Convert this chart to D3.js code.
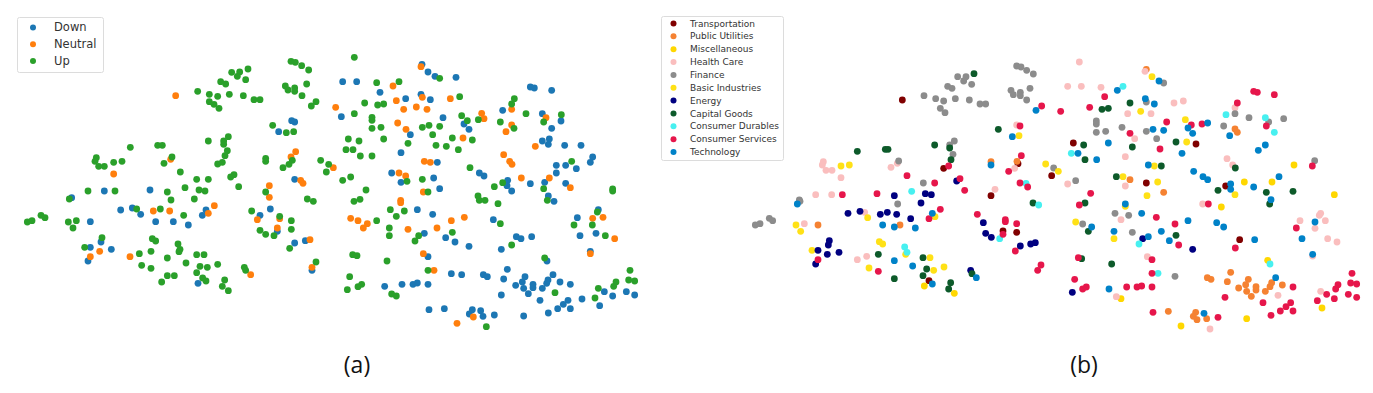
<!DOCTYPE html>
<html>
<head>
<meta charset="utf-8">
<script src="https://cdn.jsdelivr.net/npm/d3@7"></script>
<style>
  html, body { margin: 0; padding: 0; background: #fff; }
  svg { display: block; }
</style>
</head>
<body>
<div id="chart"></div>
<script>
// embedding values, both axes in the same unit (1/3 px of the figure)
var down = [[875,362],[884,366],[836,395],[313,573],[450,570],[884,538],[215,593],
  [362,630],[397,624],[422,643],[467,665],[520,665],[565,675],[618,630],[607,646],[780,646],[811,627],[832,694],[271,665],[303,726],[271,742],[334,748],[264,783],[594,850],[884,729],[916,722],[936,811],
  [1028,245],[1070,245],[1140,277],[1266,193],[1284,216],[1305,229],[1368,232],[1263,283],[1217,296],[1291,299],[1024,350],[1329,353],[1392,372],[1407,388],[1231,404],[1203,458],[1312,487],[1175,519],[1203,547],[1301,534],[1319,566],[1438,519],[1452,528],[1508,331],[1591,261],[1603,264],[1655,271],[1627,341],[1683,363],[1655,385],[1627,423],[1648,417],[1645,433],[1694,436],[1743,436],[1778,471],[1771,487],[1669,496],[1697,496],[1729,506],[1669,519],[1523,541],[1521,557],[1535,573],[1591,551],[1634,547],[1697,550],[1645,588],[1662,604],[1252,629],[1795,629],
  [1298,643],[1480,659],[1732,653],[1740,707],[1788,700],[1273,700],[1337,713],[1365,726],[1407,739],[1504,748],[1549,710],[1563,716],[1595,710],[1771,754],[1284,770],[1641,783],[1522,808],[1354,821],[1385,824],[1450,824],[1462,830],[1511,837],[1575,830],[1567,846],[1659,824],[1644,840],[1640,850],[1680,846],[1711,853],[1547,856],[1571,865],[1599,853],[1599,863],[1627,865],[1154,859],[1206,853],[1239,853],[1252,849],[1284,853],[1504,885],[1585,881],[1620,901],[1704,901],[1690,913],[1673,926],[1711,926],[1746,897],[1813,875],[1838,888],[1879,875],[1904,885],[1799,917],[1645,939],[1287,929],[1333,926],[1417,929],[1408,942],[1442,932],[1449,949],[1483,945],[1571,948]];

var neutral = [[527,287],[1007,322],[887,455],[873,471],[1000,503],[341,522],[512,478],[902,541],[909,550],[808,557],[808,592],
  [460,633],[509,633],[643,617],[625,640],[772,659],[839,656],[832,684],[299,754],[271,770],[390,770],[752,824],[930,719],[936,802],
  [1263,200],[1179,258],[1189,302],[1267,292],[1351,296],[1211,328],[1249,321],[1281,328],[1193,369],[1218,388],[1389,414],[1445,340],[1452,356],[1535,328],[1535,375],[1518,395],[1638,353],[1606,439],[1511,464],[1529,484],[1536,493],[1273,484],[1291,487],[1197,519],[1217,528],[1564,534],[1648,534],[1711,563],[1270,576],[1202,601],[1202,608],
  [1052,655],[1074,662],[1102,671],[1090,684],[1224,688],[1311,684],[1354,662],[1393,652],[1778,655],[1809,652],[1844,716],[1771,761],[1270,761],[1302,811],[1420,951],[1371,970]];

var up = [[873,184],[886,187],[905,197],[926,210],[744,207],[719,216],[695,217],[712,229],[737,239],[920,252],[662,245],[677,252],[593,274],[628,283],[653,289],[688,283],[730,287],[762,299],[780,299],[856,258],[864,270],[884,264],[884,274],[906,287],[948,305],[934,318],[628,305],[642,313],[657,325],[818,376],[859,398],[881,395],[391,442],[473,436],[487,436],[625,423],[685,410],[671,423],[671,433],[682,452],[675,467],[667,487],[653,492],[797,475],[797,484],[877,481],[867,493],[849,503],[962,481],[986,493],[979,516],[289,473],[285,484],[296,499],[313,499],[341,487],[366,484],[492,490],[516,471],[541,516],[590,538],[625,538],[702,524],[692,531],[716,560],[555,563],[597,570],[615,573],[502,576],[264,573],[345,573],[797,576],[513,600],[583,597],[922,597],[208,597],
  [940,604],[410,627],[481,627],[551,646],[755,633],[839,649],[874,662],[874,688],[780,691],[797,703],[822,707],[123,646],[135,653],[82,666],[96,662],[205,666],[229,662],[219,684],[306,713],[254,742],[457,716],[467,723],[534,732],[540,748],[537,755],[453,754],[418,761],[502,774],[590,764],[612,764],[558,789],[600,799],[622,802],[653,793],[425,796],[453,805],[590,818],[502,827],[523,827],[485,846],[608,834],[618,843],[674,840],[667,859],[685,872],[733,802],[737,811],[869,745],[948,786],
  [1063,172],[1130,248],[1197,245],[1319,235],[1379,290],[1094,309],[1133,315],[1151,312],[1063,341],[1116,352],[1116,361],[1116,385],[1143,382],[1267,382],[1287,376],[1319,379],[1385,347],[1402,362],[1435,359],[1298,404],[1357,414],[1417,420],[1045,417],[1077,423],[1151,417],[1224,430],[1308,436],[1339,439],[1375,449],[1038,449],[1059,449],[1081,468],[1116,468],[1410,503],[1052,531],[1028,541],[1098,570],[1267,538],[1221,544],[1284,576],[1062,604],[1080,598],[1171,629],[1213,633],
  [1543,296],[1535,312],[1578,341],[1501,366],[1542,385],[1684,344],[1631,366],[1715,484],[1483,560],[1508,548],[1631,566],[1434,588],[1438,601],[1455,601],[1494,611],[1642,601],[1838,567],[1838,573],
  [1189,649],[1130,662],[1168,684],[1168,707],[1256,707],[1245,723],[1357,697],[1501,671],[1535,735],[1722,675],[1777,675],[1792,636],[1816,707],[1634,774],[1058,764],[1071,767],[1161,783],[1284,811],[1049,830],[1085,853],[1074,860],[1042,869],[1175,882],[1189,888],[1665,878],[1785,894],[1795,865],[1841,859],[1848,846],[1890,811],[1886,840],[1904,843],[1459,980]];

var transportation = [[2707,300],[2831,505],[2973,587],[3054,491],[3009,693],[3050,697],[2787,842],[3220,429],[3155,527],[3439,549],[3588,432],[3677,558],[3719,719]];

var publicUtilities = [[2973,485],[3051,484],[2454,675],[2700,675],[3439,208],[3705,387],[3712,397],[3390,539],[3491,577],
  [3622,833],[3633,838],[3692,817],[3682,845],[3745,838],[3737,854],[3716,864],[3740,874],[3768,860],[3768,870],[3754,889],[3796,874],[3810,860],[3815,848],[3847,855],[3505,934],[3587,937],[3580,949],[3591,959],[3620,956]];

var miscellaneous = [[3882,495],[3816,546],[3733,546],[4003,584],[3664,621],[3803,781],[3740,956],[3966,924],[3543,978],[3363,896],[2863,880],[2773,858]];

var healthCare = [[3050,375],[2470,485],[2467,495],[2478,511],[2496,511],[2523,533],[2673,502],[2692,490],[2447,584],[2495,584],[2985,568],[3044,505],[2594,637],[2413,671],[2572,779],[2600,769],
  [3238,186],[3203,259],[3244,259],[3303,262],[3435,214],[3522,309],[3550,303],[3383,341],[3453,341],[3404,416],[3376,470],[3705,323],[3681,476],[3698,495],[3203,552],[3376,558],[3608,612],[3363,659],[3900,662],[3962,640],[3958,646],[3976,662],[3945,685],[3983,716],[4011,726],[3938,768],[3442,770],[3349,890],[3962,874],[3834,886],[3630,987]];

var finance = [[3050,198],[3063,201],[3080,211],[3100,222],[2873,230],[2898,230],[2891,243],[2915,253],[2843,259],[2856,265],[2772,287],[2807,296],[2831,303],[2866,296],[2908,300],[2940,312],[2957,312],[2821,325],[2835,338],[3033,271],[3040,284],[3061,277],[3061,287],[3080,300],[3090,265],[2863,423],[2849,435],[2859,463],[2696,483],[2770,549],[2398,600],[2400,604],[2693,612],[2266,675],[2280,671],[2308,655],[2318,662],
  [3491,249],[3439,306],[3289,363],[3289,372],[3289,397],[3317,394],[3366,382],[3439,394],[3470,416],[3705,341],[3747,353],[3806,366],[3851,356],[3671,378],[3944,482],[3161,504],[3227,542],[3345,640],[3386,646],[3248,672],[3397,697],[3525,829]];

var basicIndustries = [[2523,498],[2548,495],[3057,407],[2603,653],[2805,650],[2388,675],[2402,694],[2638,725],[2648,732],[2436,751],[2717,763],[2790,773],[2607,804],[2801,811],[2832,801],
  [3456,230],[3422,334],[3556,359],[3560,426],[3137,492],[3175,514],[3463,498],[3369,530],[3473,546],[3441,587],[3705,584],[3376,619],[3227,666],[3342,716]];

var energy = [[2870,543],[2776,581],[2794,584],[2683,587],[2763,609],[2544,640],[2580,634],[2641,643],[2662,637],[2690,643],[2732,656],[2950,668],[2957,700],[2974,712],[3061,738],[3092,732],[3106,728],[2488,722],[2485,735],[2454,751],[2482,763],[2517,757],[2447,792],[2912,811],[3428,716],[3578,748],[3217,877]];

var capitalGoods = [[2922,221],[2995,388],[2804,435],[2849,444],[2853,479],[2572,454],[2656,448],[2664,448],[3099,609],[2635,763],[2769,773],[2780,807],[2769,827],[2683,836],[2916,821],[2852,848],[2846,867],
  [3306,328],[3325,325],[3390,309],[3251,435],[3397,441],[3528,426],[3255,479],[3484,498],[3349,530],[3706,504],[3654,571],[3799,577],[3879,574],[3809,612],[3255,609],[3265,694],[3528,706],[3245,776],[3335,792]];

var consumerDurables = [[2735,574],[3078,550],[3116,615],[2999,716],[2714,741],[2721,757],[3369,259],[3678,344],[3796,353],[3823,397],[3214,460],[3417,732],[3474,820],[3810,792]];

var consumerServices = [[3060,378],[3064,467],[2846,498],[2721,527],[2880,536],[3026,514],[2804,549],[3060,549],[3083,561],[2894,571],[2631,581],[2527,584],[2821,628],[2787,656],[2932,643],[3016,659],[3016,665],[3050,671],[3009,703],[3046,753],[3123,795],[3113,811],[2454,779],[2635,814],
  [3125,318],[3182,334],[3269,322],[3314,290],[3761,274],[3772,277],[3823,284],[3712,309],[3500,366],[3574,375],[3606,372],[3799,378],[3390,400],[3480,447],[3937,498],[3272,580],[3238,615],[3625,612],[3469,652],
  [3525,672],[3536,735],[3889,684],[3706,744],[3456,779],[3235,773],[3456,820],[3224,838],[3248,867],[3259,861],[3380,861],[3411,861],[3425,858],[3456,861],[3675,892],[3879,861],[3789,908],[3872,908],[3858,920],[3879,933],[3841,933],[3813,946],[3654,952],[3459,937],[3952,902],[3980,883],[4003,896],[4007,867],[4014,854],[4045,883],[4070,892],[4052,849],[4070,852],[4056,820]];

var technology = [[3037,410],[2973,495],[3108,331],[2392,612],[2797,640],[2648,675],[2683,681],[2746,684],[2683,782],[2738,798],[2929,833],[2797,852],
  [3352,271],[3477,243],[3436,296],[3463,312],[3623,369],[3564,384],[3578,400],[3459,388],[3491,391],[3689,407],[3325,429],[3234,460],[3290,479],[3546,460],[3775,451],[3796,435],[3445,495],[3581,514],[3609,530],[3623,539],[3692,552],[3692,568],[3761,561],[3837,530],[3813,599],[3376,612],[3425,640],
  [3275,681],[3342,694],[3484,694],[3564,662],[3650,668],[3671,681],[3445,710],[3508,722],[3764,719],[3945,666],[3906,716],[3938,763],[3827,833],[3327,867],[3612,940]];

var trendNames = ['Down', 'Neutral', 'Up'];
var trendColors = ['#1f77b4', '#ff7f0e', '#2ca02c'];
var trendValues = [down, neutral, up];

var sectorNames = ['Transportation', 'Public Utilities', 'Miscellaneous', 'Health Care', 'Finance', 'Basic Industries', 'Energy', 'Capital Goods', 'Consumer Durables', 'Consumer Services', 'Technology'];
var sectorColors = ['#800000', '#f58231', '#ffd700', '#fabebe', '#8c8c8c', '#ffe119', '#000080', '#0b5a2b', '#46f0f0', '#e6194b', '#0082c8'];
var sectorValues = [transportation, publicUtilities, miscellaneous, healthCare, finance, basicIndustries, energy, capitalGoods, consumerDurables, consumerServices, technology];

var width = 1373, height = 393;

var svg = d3.select('#chart')
  .append('svg')
  .attr('width', width)
  .attr('height', height)
  .style('font-family', '"DejaVu Sans", sans-serif');

// the reference is an upscaled screenshot, so everything is a little soft
var soft = svg.append('defs').append('filter').attr('id', 'soft');
soft.append('feGaussianBlur').attr('stdDeviation', 0.5);

var x = d3.scaleLinear().domain([0, 4119]).range([0, width]);
var y = d3.scaleLinear().domain([0, 1179]).range([0, height]);

function scatter(values, colors) {
  var group = svg.append('g').attr('filter', 'url(#soft)');
  values.forEach(function(points, i) {
    group.selectAll(null)
      .data(points)
      .enter()
      .append('circle')
      .attr('cx', function(d) { return x(d[0]); })
      .attr('cy', function(d) { return y(d[1]); })
      .attr('r', 3.4)
      .attr('fill', colors[i]);
  });
}

function legend(names, colors, box, fontSize) {
  var g = svg.append('g');
  g.append('rect')
    .attr('x', box.x + 0.5)
    .attr('y', box.y + 0.5)
    .attr('width', box.w)
    .attr('height', box.h)
    .attr('rx', 2)
    .attr('fill', '#fff')
    .attr('stroke', '#dcdcdc');
  var row = d3.scalePoint().domain(names).range([box.first, box.last]);
  var item = g.selectAll(null).data(names).enter().append('g')
    .attr('transform', function(d) { return 'translate(0,' + row(d) + ')'; });
  item.append('circle')
    .attr('cx', box.markerX)
    .attr('r', box.r)
    .attr('fill', function(d, i) { return colors[i]; })
    .attr('filter', 'url(#soft)');
  item.append('text')
    .attr('x', box.textX)
    .attr('dy', '0.34em')
    .attr('font-size', fontSize)
    .attr('fill', '#333')
    .text(function(d) { return d; });
}

scatter(trendValues, trendColors);
scatter(sectorValues, sectorColors);

legend(trendNames, trendColors, {x: 17, y: 17, w: 86, h: 55, first: 27.5, last: 61, markerX: 33, textX: 54, r: 3}, 11.5);
legend(sectorNames, sectorColors, {x: 661, y: 16, w: 122, h: 144, first: 23.5, last: 152, markerX: 673.5, textX: 690, r: 3}, 9);

svg.selectAll(null)
  .data([{t: '(a)', x: 357}, {t: '(b)', x: 1084}])
  .enter()
  .append('text')
  .attr('x', function(d) { return d.x; })
  .attr('y', 373)
  .attr('text-anchor', 'middle')
  .attr('font-family', '"Open Sans", sans-serif')
  .attr('font-size', 23)
  .attr('fill', '#111')
  .text(function(d) { return d.t; });
</script>
</body>
</html>
